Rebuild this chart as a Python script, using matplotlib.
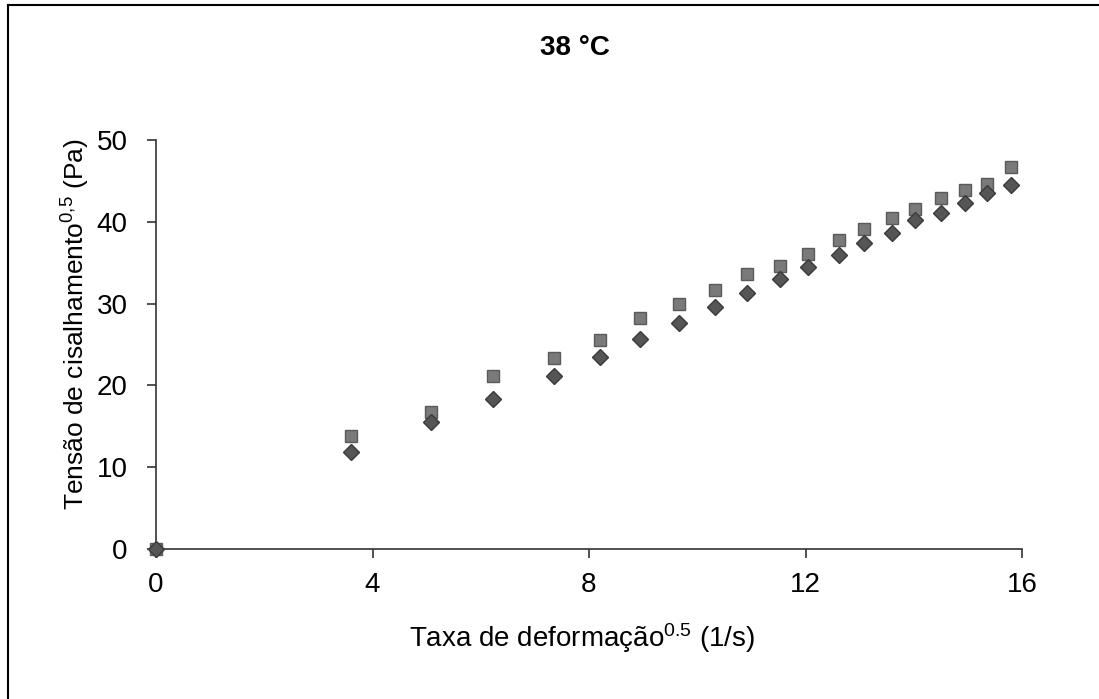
import matplotlib
matplotlib.use("Agg")
import matplotlib.pyplot as plt
from matplotlib.lines import Line2D

plt.rcParams['font.family'] = ['Liberation Sans', 'DejaVu Sans']
plt.rcParams['mathtext.fontset'] = 'custom'
plt.rcParams['mathtext.rm'] = 'Liberation Sans'
plt.rcParams['mathtext.it'] = 'Liberation Sans'

# data
taxa = [0, 3.60, 5.08, 6.23, 7.36, 8.21, 8.95, 9.67, 10.33, 10.92,
        11.53, 12.05, 12.61, 13.09, 13.59, 14.03, 14.51, 14.94, 15.36, 15.79]
tensao_sq = [0, 13.8, 16.7, 21.1, 23.3, 25.5, 28.2, 30.0, 31.7, 33.6,
             34.6, 36.1, 37.8, 39.1, 40.5, 41.6, 42.9, 43.9, 44.6, 46.7]
tensao_dm = [0, 11.9, 15.5, 18.3, 21.1, 23.5, 25.7, 27.6, 29.6, 31.3,
             33.0, 34.5, 35.9, 37.4, 38.6, 40.2, 41.1, 42.3, 43.5, 44.5]
xticks = [0, 4, 8, 12, 16]
yticks = [0, 10, 20, 30, 40, 50]

fig = plt.figure(figsize=(10.99, 6.99), dpi=100)
ax = fig.add_axes([156/1099, 1 - 549/699, (1022-156)/1099, (549-140)/699])

ax.plot(taxa, tensao_sq, 's', color='#7a7a7a', markeredgecolor='#5a5a5a',
        markersize=8, clip_on=False, zorder=3)
ax.plot(taxa, tensao_dm, 'D', color='#555555', markeredgecolor='#3a3a3a',
        markersize=8.5, clip_on=False, zorder=3)

ax.set_xlim(0, 16)
ax.set_ylim(0, 50)
ax.set_xticks(xticks)
ax.set_yticks(yticks)
ax.spines['top'].set_visible(False)
ax.spines['right'].set_visible(False)
for s in ['left', 'bottom']:
    ax.spines[s].set_color('#333333')
    ax.spines[s].set_linewidth(1.2)
ax.tick_params(axis='both', direction='out', length=6.5, width=1.2,
               color='#333333', labelsize=20)
ax.tick_params(axis='x', pad=10)
ax.tick_params(axis='y', pad=14)

fig.text(575/1099, 1 - 48/699, "38 °C", ha='center', va='center',
         fontsize=20, fontweight='bold')
fig.text(582/1099, 1 - 638/699, r"Taxa de deformação$^{\mathrm{0.5}}$ (1/s)",
         ha='center', va='center', fontsize=20)
fig.text(76/1099, 1 - 324/699, r"Tensão de cisalhamento$^{\mathrm{0{,}5}}$ (Pa)",
         ha='center', va='center', rotation=90, fontsize=19)

# frame of the scanned figure (left and top edges)
fig.add_artist(Line2D([8/1099, 8/1099], [0, 1 - 5/699], color='black', lw=1.5))
fig.add_artist(Line2D([8/1099, 1], [1 - 5/699, 1 - 5/699], color='black', lw=1.5))

fig.savefig("out.png", dpi=100)
